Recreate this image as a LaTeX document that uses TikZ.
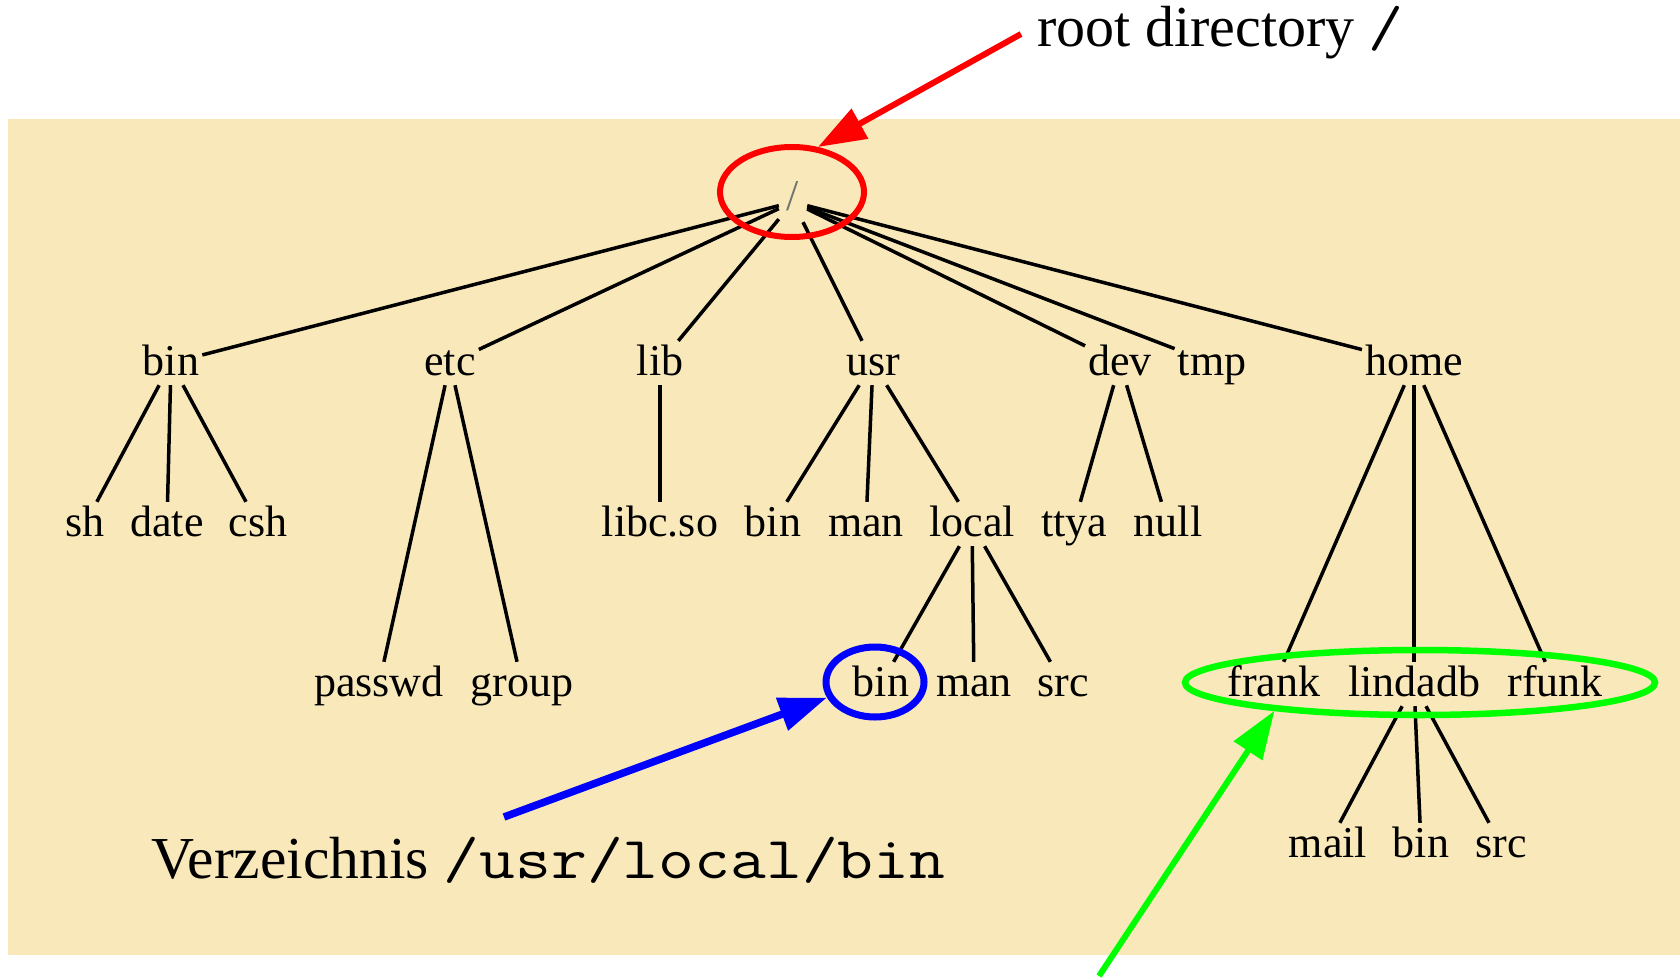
\documentclass[tikz,border=0pt]{standalone}
\usepackage{fontspec}
\setmainfont{Liberation Serif}
\setmonofont[FakeStretch=1.17]{Latin Modern Mono}
\usetikzlibrary{arrows.meta,shapes.geometric}
\definecolor{paper}{RGB}{249,233,186}
\definecolor{markred}{RGB}{255,0,0}
\definecolor{markblue}{RGB}{0,0,255}
\definecolor{markgreen}{RGB}{0,255,0}
\begin{document}
\begin{tikzpicture}[x=1pt,y=-1pt,
  dirnode/.style={font=\fontsize{44}{48}\selectfont, text height=32pt, text depth=8pt,
                  inner xsep=3pt, inner ysep=2pt, anchor=base},
  branch/.style={line width=3.5pt},
  note/.style={font=\fontsize{58}{64}\selectfont, anchor=base west, inner sep=0pt},
  ring/.style={ellipse, draw, inner sep=0pt},
  pointer/.style={-{Triangle[length=48pt,width=33pt]}}
]
\useasboundingbox (0,0) rectangle (1680,979);
% background panel
\fill[paper] (8,119) rectangle (1680,955);

% root
\node[dirnode, text=black!55, minimum width=28pt, text height=26pt, text depth=10pt] (root) at (793,210) {/};

% first level
\node[dirnode] (n-bin)  at (171,375)  {bin};
\node[dirnode] (n-etc)  at (450,375)  {etc};
\node[dirnode] (n-lib)  at (660,375)  {lib};
\node[dirnode] (n-usr)  at (873,375)  {usr};
\node[dirnode] (n-dev)  at (1120,375) {dev};
\node[dirnode] (n-tmp)  at (1212,375) {tmp};
\node[dirnode] (n-home) at (1414,375) {home};

% second level
\node[dirnode] (n-sh)     at (85,536)   {sh};
\node[dirnode] (n-date)   at (167,536)  {date};
\node[dirnode] (n-csh)    at (258,536)  {csh};
\node[dirnode] (n-libc)   at (660,536)  {libc.so};
\node[dirnode] (n-usrbin) at (773,536)  {bin};
\node[dirnode] (n-usrman) at (866,536)  {man};
\node[dirnode] (n-local)  at (972,536)  {local};
\node[dirnode] (n-ttya)   at (1074,536) {ttya};
\node[dirnode] (n-null)   at (1168,536) {null};

% third level
\node[dirnode] (n-passwd)  at (379,696)  {passwd};
\node[dirnode] (n-group)   at (522,696)  {group};
\node[dirnode] (n-lbin)    at (881,696)  {bin};
\node[dirnode] (n-lman)    at (974,696)  {man};
\node[dirnode] (n-lsrc)    at (1063,696) {src};
\node[dirnode] (n-frank)   at (1274,696) {frank};
\node[dirnode] (n-lindadb) at (1414,696) {lindadb};
\node[dirnode] (n-rfunk)   at (1555,696) {rfunk};

% fourth level
\node[dirnode] (n-mail) at (1328,857) {mail};
\node[dirnode] (n-hbin) at (1421,857) {bin};
\node[dirnode] (n-hsrc) at (1501,857) {src};

% tree edges
\foreach \c in {n-bin,n-etc,n-lib,n-usr,n-dev,n-tmp,n-home}
  \draw[branch] (root) -- (\c);
\foreach \c in {n-sh,n-date,n-csh} \draw[branch] (n-bin) -- (\c);
\foreach \c in {n-passwd,n-group} \draw[branch] (n-etc) -- (\c);
\draw[branch] (n-lib) -- (n-libc);
\foreach \c in {n-usrbin,n-usrman,n-local} \draw[branch] (n-usr) -- (\c);
\foreach \c in {n-ttya,n-null} \draw[branch] (n-dev) -- (\c);
\foreach \c in {n-lbin,n-lman,n-lsrc} \draw[branch] (n-local) -- (\c);
\foreach \c in {n-frank,n-lindadb,n-rfunk} \draw[branch] (n-home) -- (\c);
\foreach \c in {n-mail,n-hbin,n-hsrc} \draw[branch] (n-lindadb) -- (\c);

% highlight rings
\node[ring, draw=markred, line width=6pt, minimum width=144pt, minimum height=90pt] (rootring) at (792,192) {};
\node[ring, draw=markblue, line width=7pt, minimum width=98pt, minimum height=70pt] (binring) at (875,682) {};
\node[ring, draw=markgreen, line width=6.5pt, minimum width=470pt, minimum height=65pt] (homering) at (1420,682.5) {};

% annotations
\node[note] (rootlabel) at (1037,47) {root directory \texttt{/}};
\node[note, font=\fontsize{59.5}{64}\selectfont] (binlabel) at (151,878) {Verzeichnis \texttt{/usr/local/bin}};

\coordinate (redtail)   at (1021,34);
\coordinate (bluetail)  at (504,817);
\coordinate (greentail) at (1099,976);
\draw[pointer, markred, line width=6pt] (redtail) -- (rootring.60);
\draw[pointer, markblue, line width=7.5pt] (bluetail) -- (binring.198);
\draw[pointer, markgreen, line width=6pt] (greentail) -- (homering.191);
\end{tikzpicture}
\end{document}
